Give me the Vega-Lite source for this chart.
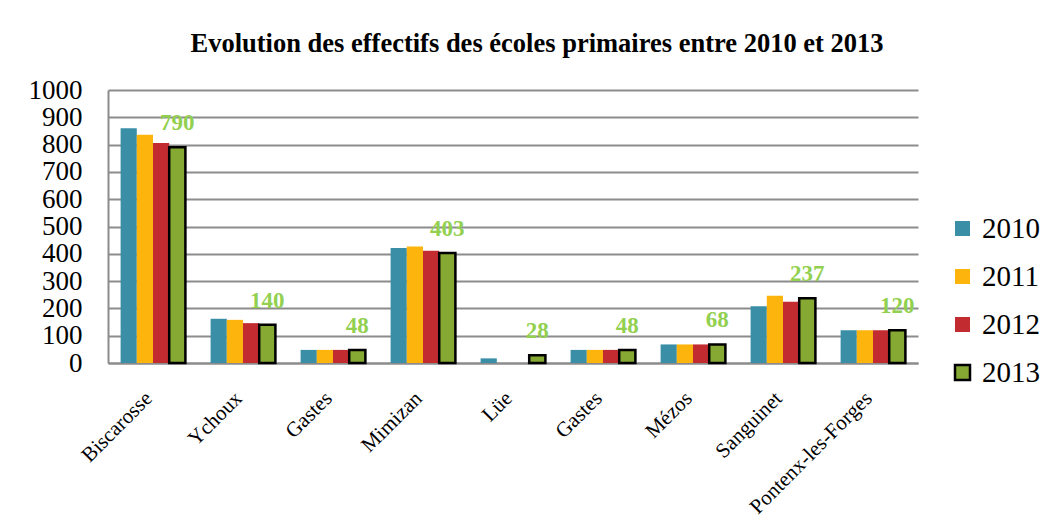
{
  "$schema": "https://vega.github.io/schema/vega-lite/v6.json",
  "width": 810,
  "height": 273,
  "autosize": {"type": "none"},
  "padding": {"left": 108, "top": 90, "right": 138, "bottom": 167},
  "background": "white",
  "title": {
    "text": "Evolution des effectifs des écoles primaires entre 2010 et 2013",
    "font": "Liberation Serif",
    "fontSize": 26.5,
    "fontWeight": "bold",
    "color": "black",
    "anchor": "middle",
    "dx": 24,
    "offset": 19
  },
  "data": {
    "values": [
      {"school": "Biscarosse", "order": 1, "year": "2010", "value": 860},
      {"school": "Biscarosse", "order": 1, "year": "2011", "value": 836},
      {"school": "Biscarosse", "order": 1, "year": "2012", "value": 806},
      {"school": "Biscarosse", "order": 1, "year": "2013", "value": 790},
      {"school": "Ychoux", "order": 2, "year": "2010", "value": 162},
      {"school": "Ychoux", "order": 2, "year": "2011", "value": 158},
      {"school": "Ychoux", "order": 2, "year": "2012", "value": 146},
      {"school": "Ychoux", "order": 2, "year": "2013", "value": 140},
      {"school": "Gastes", "order": 3, "year": "2010", "value": 48},
      {"school": "Gastes", "order": 3, "year": "2011", "value": 48},
      {"school": "Gastes", "order": 3, "year": "2012", "value": 48},
      {"school": "Gastes", "order": 3, "year": "2013", "value": 48},
      {"school": "Mimizan", "order": 4, "year": "2010", "value": 421},
      {"school": "Mimizan", "order": 4, "year": "2011", "value": 427},
      {"school": "Mimizan", "order": 4, "year": "2012", "value": 411},
      {"school": "Mimizan", "order": 4, "year": "2013", "value": 403},
      {"school": "Lüe", "order": 5, "year": "2010", "value": 17},
      {"school": "Lüe", "order": 5, "year": "2011", "value": 0},
      {"school": "Lüe", "order": 5, "year": "2012", "value": 0},
      {"school": "Lüe", "order": 5, "year": "2013", "value": 28},
      {"school": "Gastes ", "order": 6, "year": "2010", "value": 48},
      {"school": "Gastes ", "order": 6, "year": "2011", "value": 48},
      {"school": "Gastes ", "order": 6, "year": "2012", "value": 48},
      {"school": "Gastes ", "order": 6, "year": "2013", "value": 48},
      {"school": "Mézos", "order": 7, "year": "2010", "value": 68},
      {"school": "Mézos", "order": 7, "year": "2011", "value": 68},
      {"school": "Mézos", "order": 7, "year": "2012", "value": 68},
      {"school": "Mézos", "order": 7, "year": "2013", "value": 68},
      {"school": "Sanguinet", "order": 8, "year": "2010", "value": 208},
      {"school": "Sanguinet", "order": 8, "year": "2011", "value": 246},
      {"school": "Sanguinet", "order": 8, "year": "2012", "value": 224},
      {"school": "Sanguinet", "order": 8, "year": "2013", "value": 237},
      {"school": "Pontenx-les-Forges", "order": 9, "year": "2010", "value": 120},
      {"school": "Pontenx-les-Forges", "order": 9, "year": "2011", "value": 120},
      {"school": "Pontenx-les-Forges", "order": 9, "year": "2012", "value": 120},
      {"school": "Pontenx-les-Forges", "order": 9, "year": "2013", "value": 120}
    ]
  },
  "encoding": {
    "x": {
      "field": "school",
      "type": "nominal",
      "sort": ["Biscarosse", "Ychoux", "Gastes", "Mimizan", "Lüe", "Gastes ", "Mézos", "Sanguinet", "Pontenx-les-Forges"],
      "scale": {"paddingInner": 0.28, "paddingOuter": 0.14},
      "axis": {
        "title": null,
        "labelAngle": -45,
        "labelAlign": "right",
        "labelBaseline": "middle",
        "labelFont": "Liberation Serif",
        "labelFontSize": 21,
        "labelColor": "black",
        "labelPadding": 32,
        "labelOffset": -4,
        "ticks": false,
        "domainColor": "#8C8C8C",
        "domainWidth": 2
      }
    },
    "xOffset": {
      "field": "year",
      "type": "nominal",
      "scale": {"domain": ["2010", "2011", "2012", "2013"], "paddingInner": 0}
    },
    "y": {
      "field": "value",
      "type": "quantitative",
      "scale": {"domain": [0, 1000], "nice": false},
      "axis": {
        "title": null,
        "format": "d",
        "values": [0, 100, 200, 300, 400, 500, 600, 700, 800, 900, 1000],
        "labelFont": "Liberation Serif",
        "labelFontSize": 27,
        "labelColor": "black",
        "labelPadding": 26,
        "ticks": false,
        "domainColor": "#8C8C8C",
        "domainWidth": 2,
        "gridColor": "#8C8C8C",
        "gridWidth": 2
      }
    }
  },
  "layer": [
    {
      "mark": {"type": "bar", "strokeWidth": 2.5},
      "encoding": {
        "color": {
          "field": "year",
          "type": "nominal",
          "scale": {
            "domain": ["2010", "2011", "2012", "2013"],
            "range": ["#3A8FA7", "#FDB40D", "#C22B2F", "#85A932"]
          },
          "legend": {
            "title": null,
            "orient": "none",
            "legendX": 840,
            "legendY": 124,
            "symbolType": "square",
            "symbolSize": 225,
            "symbolStrokeWidth": 2.5,
            "labelFont": "Liberation Serif",
            "labelFontSize": 29,
            "labelColor": "black",
            "labelOffset": 5,
            "rowPadding": 18
          }
        },
        "stroke": {
          "field": "year",
          "type": "nominal",
          "scale": {
            "domain": ["2010", "2011", "2012", "2013"],
            "range": ["transparent", "transparent", "transparent", "black"]
          }
        }
      }
    },
    {
      "transform": [{"filter": "datum.year == '2013'"}],
      "mark": {
        "type": "text",
        "font": "Liberation Serif",
        "fontSize": 23,
        "fontWeight": "bold",
        "color": "#92D050",
        "baseline": "middle",
        "dy": -24
      },
      "encoding": {
        "text": {"field": "value", "type": "quantitative"}
      }
    }
  ],
  "config": {
    "font": "Liberation Serif",
    "view": {"stroke": null},
    "legend": {"labelFont": "Liberation Serif", "labelFontSize": 29, "labelColor": "black"}
  }
}
